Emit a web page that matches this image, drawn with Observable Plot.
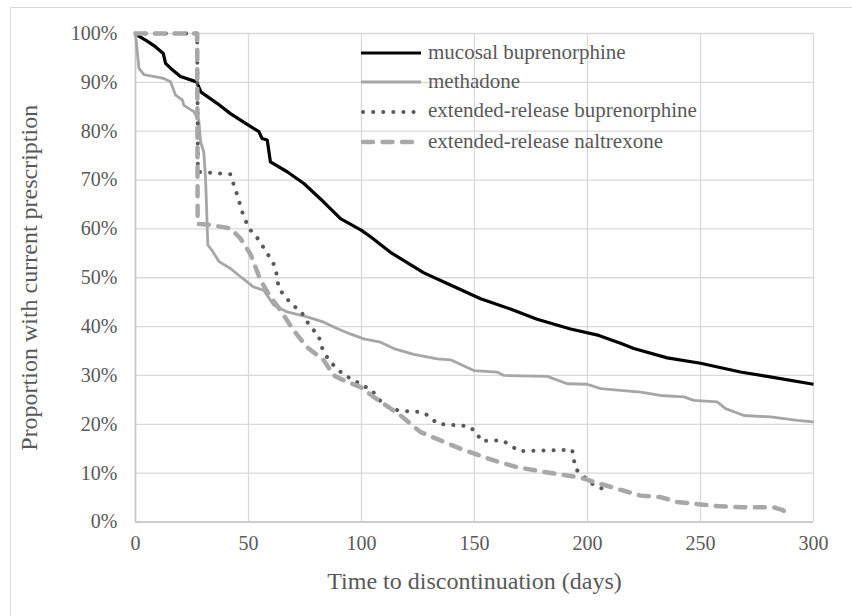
<!DOCTYPE html>
<html>
<head>
<meta charset="utf-8">
<script src="https://cdn.jsdelivr.net/npm/d3@7"></script>
<script src="https://cdn.jsdelivr.net/npm/@observablehq/plot@0.6"></script>
<style>
  html, body { margin: 0; padding: 0; background: #fff; }
  #wrap { position: relative; width: 852px; height: 616px; overflow: hidden; font-family: "Liberation Serif", "Times New Roman", serif; }
  #frame { position: absolute; left: 10px; top: 7px; width: 860px; height: 640px; border: 1.5px solid #d9d9d9; box-sizing: border-box; }
  #chart { position: absolute; left: 0; top: 0; }
  .lg { position: absolute; left: 360px; height: 30px; display: flex; align-items: center; font-size: 21px; color: #595959; white-space: nowrap; }
  .lg svg { margin-right: 6px; }
</style>
</head>
<body>
<div id="wrap">
  <div id="frame"></div>
  <div id="chart"></div>
  <div id="legend"></div>
</div>
<script>
// ---- data (days, percent with current prescription) ----
const seriesNames = ["mucosal buprenorphine", "methadone", "extended-release buprenorphine", "extended-release naltrexone"];

const mucosalDays = [0, 2, 5, 8.8, 12.3, 13.3, 15.5, 19.9, 27, 29, 36.1, 42, 48.7, 54.6, 56, 58.3, 59.7, 67.1, 74.5, 83.3, 90.7, 100, 104, 112.8, 127.6, 139.4, 152.7, 165.9, 177.7, 192.5, 205, 214.6, 220.5, 235.3, 250, 267.7, 279.5, 300];
const mucosalPct  = [100, 99.3, 98.5, 97.3, 95.9, 93.9, 92.9, 91.2, 90.1, 88, 85.7, 83.6, 81.6, 79.9, 78.5, 78.2, 73.7, 71.7, 69.3, 65.5, 62.1, 59.7, 58.4, 55.2, 51, 48.5, 45.7, 43.6, 41.5, 39.5, 38.2, 36.6, 35.5, 33.6, 32.5, 30.7, 29.8, 28.2];

const methadoneDays = [0, 1.5, 3.7, 12.5, 15.5, 17.7, 20.7, 21.4, 25.8, 28, 28.8, 30.2, 31, 31.7, 32, 34, 37, 42, 46.5, 52.3, 56.8, 61.2, 67.1, 75.9, 83.3, 89.2, 95, 101, 108.4, 114.3, 123.1, 133.5, 139.4, 149.7, 160, 163, 182.2, 191, 199.9, 205.8, 223.5, 232.3, 242.6, 247, 257.4, 261.1, 269.2, 281, 292.8, 300];
const methadonePct  = [100, 92.9, 91.6, 90.8, 90.1, 87.4, 86.4, 85.3, 84, 82.3, 77.8, 75.8, 70.3, 60.8, 56.7, 55.5, 53.3, 51.9, 50.2, 48.1, 47.4, 44.4, 43.0, 42.0, 40.9, 39.6, 38.5, 37.5, 36.8, 35.5, 34.3, 33.4, 33.2, 31.0, 30.7, 30.0, 29.8, 28.3, 28.2, 27.3, 26.6, 25.9, 25.6, 24.9, 24.6, 23.2, 21.8, 21.5, 20.8, 20.5];

const erBupDays = [0, 27.3, 27.6, 42, 43.5, 45, 47.2, 50.1, 53.1, 57.5, 61.9, 63.4, 66.4, 69.3, 73, 77.4, 81.1, 81.9, 85.5, 89.2, 92.9, 96.6, 99.6, 104, 106.9, 109.9, 116.5, 126.9, 130.5, 133.5, 147.5, 151.2, 152.7, 162.3, 165.9, 169.6, 193.2, 193.9, 194.7, 201.3, 205.8, 209.9];
const erBupPct  = [100, 100, 71.7, 71.2, 69, 66.9, 63.5, 60.1, 58.7, 55.6, 52.2, 47.8, 46.1, 44.4, 43.3, 39.9, 38.2, 36.2, 33.1, 31.4, 29.8, 29.3, 28, 27.3, 25.6, 23.9, 22.8, 22.5, 21.5, 20.1, 19.6, 18.2, 16.6, 16.7, 15.7, 14.5, 14.8, 13, 10.9, 8.0, 7.0, 5.9];

const erNalDays = [0, 27.3, 27.5, 31.7, 42, 46.5, 50.9, 55.3, 59.7, 64.2, 70, 75.9, 83.3, 87.7, 92.2, 99.6, 105.4, 117.3, 126.1, 143.8, 158.5, 168.9, 188, 196.9, 202.8, 211.6, 223.5, 232.3, 239.7, 250, 258.8, 269.2, 282.4, 286.1, 288.3];
const erNalPct  = [100, 100, 61, 60.9, 60.1, 58, 54.8, 49.5, 46.1, 43.3, 39.2, 35.8, 33.1, 30, 29, 27.6, 25.6, 21.8, 18.4, 15.0, 12.6, 11.2, 9.7, 9.1, 8.2, 7.0, 5.4, 5.1, 4.1, 3.6, 3.2, 3.0, 3.0, 2.5, 1.9];

const xTicks = [0, 50, 100, 150, 200, 250, 300];
const yTicks = [0, 10, 20, 30, 40, 50, 60, 70, 80, 90, 100];

// ---- styles ----
const styles = [
  {stroke: "#000000", strokeWidth: 3.2, dash: null, cap: "butt"},
  {stroke: "#a6a6a6", strokeWidth: 2.8, dash: null, cap: "butt"},
  {stroke: "#595959", strokeWidth: 4, dash: "0.1 10", cap: "round"},
  {stroke: "#a8a8a8", strokeWidth: 4.5, dash: "10 9.5", cap: "round"}
];

const toRows = (days, pct) => days.map((d, i) => ({d, p: pct[i]}));
const rows = [
  toRows(mucosalDays, mucosalPct),
  toRows(methadoneDays, methadonePct),
  toRows(erBupDays, erBupPct),
  toRows(erNalDays, erNalPct)
];

const lineMark = (i) => Plot.line(rows[i], {
  x: "d", y: "p",
  stroke: styles[i].stroke, strokeWidth: styles[i].strokeWidth,
  strokeDasharray: styles[i].dash, strokeLinecap: styles[i].cap, strokeLinejoin: "round"
});

const chart = Plot.plot({
  width: 852, height: 616,
  marginLeft: 135, marginRight: 39, marginTop: 33, marginBottom: 94.5,
  style: {fontFamily: "'Liberation Serif', 'Times New Roman', serif", fontSize: "20px", color: "#595959", background: "transparent", overflow: "visible"},
  x: {domain: [0, 300]},
  y: {domain: [0, 100]},
  marks: [
    Plot.gridX(xTicks, {stroke: "#d9d9d9", strokeOpacity: 1, strokeWidth: 1.3}),
    Plot.gridY(yTicks, {stroke: "#d9d9d9", strokeOpacity: 1, strokeWidth: 1.3}),
    Plot.ruleY([0], {stroke: "#c4c4c4", strokeWidth: 1.5}),
    Plot.ruleX([0], {stroke: "#c4c4c4", strokeWidth: 1.5}),
    Plot.axisX({ticks: xTicks, tickSize: 0, tickPadding: 14, fill: "#595959", fontSize: 20,
      label: "Time to discontinuation (days)", labelAnchor: "center", labelArrow: "none", labelOffset: 67}),
    Plot.axisY({ticks: yTicks, tickSize: 0, tickPadding: 18, tickFormat: d => d + "%", fill: "#595959", fontSize: 20,
      label: "Proportion with current prescription", labelAnchor: "center", labelArrow: "none", labelOffset: 116}),
    lineMark(0),
    lineMark(1),
    lineMark(2),
    lineMark(3)
  ]
});
document.getElementById("chart").appendChild(chart);
// enlarge axis titles
chart.querySelectorAll("g[aria-label='x-axis label'], g[aria-label='y-axis label']").forEach(g => g.setAttribute("font-size", "24"));

// ---- legend ----
const legendCenters = [53, 82, 111.5, 142];
const legend = document.getElementById("legend");
seriesNames.forEach((name, i) => {
  const row = document.createElement("div");
  row.className = "lg";
  row.style.top = (legendCenters[i] - 15) + "px";
  const s = styles[i];
  row.innerHTML = `<svg width="62" height="12"><line x1="${s.cap === 'round' ? 3 : 1}" y1="6" x2="${s.cap === 'round' ? 59 : 61}" y2="6" stroke="${s.stroke}" stroke-width="${s.strokeWidth}" ${s.dash ? `stroke-dasharray="${s.dash}"` : ""} stroke-linecap="${s.cap}"/></svg><span style="position:relative;top:-1px">${name}</span>`;
  legend.appendChild(row);
});
</script>
</body>
</html>
